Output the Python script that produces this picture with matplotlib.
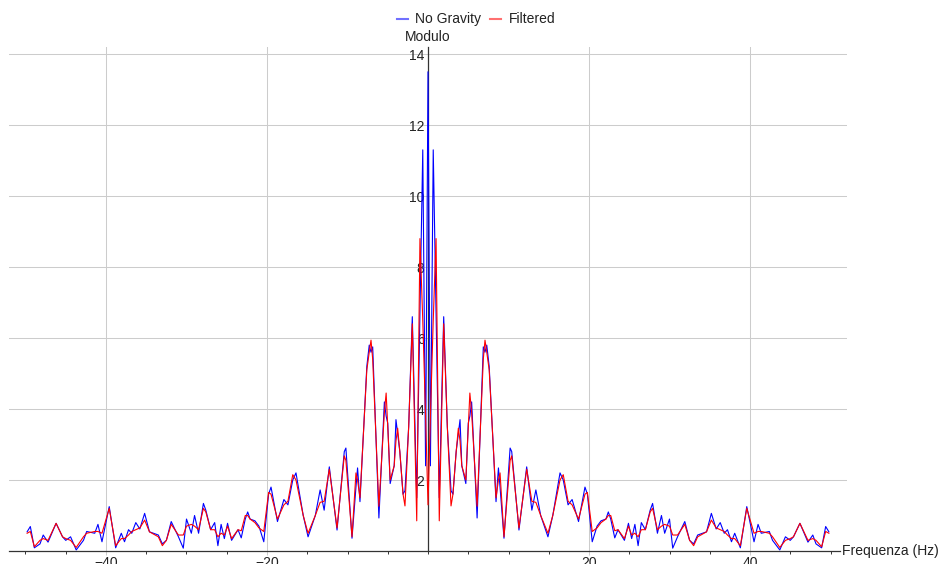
import numpy as np
import matplotlib
matplotlib.use('Agg')
import matplotlib.pyplot as plt
from matplotlib.lines import Line2D

plt.rcParams['font.family'] = ['Liberation Sans', 'DejaVu Sans']

# positive half of the spectrum (the modulus of the FFT of a
# real signal is symmetric, the left half of the chart is the mirror of this one)
freq_pos = [0.0, 0.3, 0.65, 1.0, 1.4, 1.95, 2.4, 2.86, 3.1, 3.5, 3.77, 3.98, 4.2, 4.7,
            5.0, 5.2, 5.42, 6.1, 6.87, 7.08, 7.3, 7.6, 8.45, 8.75, 8.95, 9.44, 10.2,
            10.4, 11.3, 12.26, 12.9, 13.4, 14.0, 14.9, 15.5, 16.4, 16.8, 17.4, 17.9,
            18.7, 19.5, 19.8, 20.4, 21.0, 21.5, 22.1, 22.4, 22.7, 23.2, 23.6, 24.4,
            24.9, 25.3, 25.7, 26.1, 26.5, 27.0, 27.6, 27.9, 28.5, 29.0, 29.4, 30.0,
            30.4, 31.0, 31.9, 32.5, 33.0, 33.5, 34.6, 35.2, 35.8, 36.3, 36.8, 37.2,
            37.7, 38.1, 38.8, 39.6, 40.5, 41.0, 41.4, 42.4, 42.8, 43.7, 44.4, 45.0,
            45.4, 46.2, 47.2, 47.8, 48.2, 48.9, 49.4, 49.8]
no_gravity_pos = [13.5, 2.4, 11.3, 6.8, 1.5, 6.6, 3.5, 1.7, 1.6, 2.8, 3.3, 3.7, 2.4, 1.9,
                  3.6, 3.8, 4.2, 0.93, 5.75, 5.6, 5.8, 5.2, 1.39, 2.34, 1.8, 0.36, 2.9,
                  2.8, 0.59, 2.37, 1.15, 1.72, 1.0, 0.4, 1.0, 2.2, 2.0, 1.3, 1.45,
                  0.83, 1.8, 1.6, 0.26, 0.7, 0.85, 0.9, 1.1, 0.9, 0.37, 0.6, 0.3,
                  0.78, 0.35, 0.75, 0.15, 0.8, 0.6, 1.15, 1.34, 0.5, 1.0, 0.5, 0.9,
                  0.08, 0.4, 0.83, 0.3, 0.2, 0.45, 0.54, 1.06, 0.62, 0.8, 0.5, 0.6,
                  0.26, 0.5, 0.09, 1.25, 0.26, 0.75, 0.5, 0.55, 0.3, 0.03, 0.4, 0.3,
                  0.4, 0.78, 0.25, 0.45, 0.2, 0.09, 0.69, 0.54]
filtered_pos = [1.3, 3.8, 6.5, 8.8, 0.85, 6.4, 3.5, 1.27, 1.6, 2.8, 3.46, 3.1, 2.4, 2.0,
                3.5, 4.45, 3.9, 1.26, 5.4, 5.94, 5.6, 5.1, 1.5, 2.0, 2.2, 0.4, 2.55,
                2.68, 0.65, 2.3, 1.4, 1.37, 1.0, 0.5, 1.0, 2.0, 2.15, 1.4, 1.3,
                0.9, 1.6, 1.65, 0.55, 0.65, 0.8, 0.9, 1.0, 1.0, 0.57, 0.6, 0.35,
                0.7, 0.45, 0.5, 0.4, 0.6, 0.6, 1.1, 1.2, 0.6, 0.7, 0.75, 0.7,
                0.45, 0.45, 0.75, 0.3, 0.15, 0.4, 0.54, 0.87, 0.65, 0.6, 0.55, 0.45,
                0.35, 0.35, 0.15, 1.2, 0.5, 0.55, 0.55, 0.5, 0.4, 0.1, 0.3, 0.35,
                0.4, 0.78, 0.3, 0.35, 0.3, 0.12, 0.55, 0.5]

x_ticks = [-40, -20, 20, 40]
x_tick_labels = ['\u221240', '\u221220', '20', '40']
y_ticks = [2, 4, 6, 8, 10, 12, 14]

# full spectrum
fp = np.array(freq_pos)
freq = np.concatenate([-fp[:0:-1], fp])
no_gravity = np.concatenate([np.array(no_gravity_pos)[:0:-1], no_gravity_pos])
filtered = np.concatenate([np.array(filtered_pos)[:0:-1], filtered_pos])

W, H = 944, 564
fig = plt.figure(figsize=(W / 100, H / 100), dpi=100)
x0, x1 = 9.4, 846.6
y0, y1 = 551, 46.9
ax = fig.add_axes([x0 / W, (H - y0) / H, (x1 - x0) / W, (y0 - y1) / H])
ax.set_xlim(-52, 52)
ax.set_ylim(0, 14.2)
for s in ax.spines.values():
    s.set_visible(False)

ax.set_xticks(x_ticks)
ax.set_yticks(y_ticks)
ax.set_xticks(np.arange(-50, 51, 5), minor=True)
ax.tick_params(which='major', length=0, labelbottom=False, labelleft=False)
ax.tick_params(axis='x', which='major', length=3, width=0.75, color='#cccccc', direction='out')
ax.tick_params(which='minor', length=2.5, width=0.7, color='#333333', direction='out')
ax.grid(True, which='major', color='#cccccc', lw=0.75)
ax.set_axisbelow(True)

# baseline and vertical axis
ax.plot([-52, 51.2], [0, 0], color='#333333', lw=0.9, clip_on=False, zorder=1.5)
ax.axvline(0, color='#333333', lw=0.9, clip_on=False, zorder=1.5)

ax.plot(freq, no_gravity, color='#0000ff', lw=0.8, zorder=2)
ax.plot(freq, filtered, color='#ff0000', lw=0.8, zorder=3)

fs = 10
for yv in y_ticks:
    ax.annotate(str(yv), (0, yv), xytext=(-2.5, -1.5), textcoords='offset points',
                ha='right', va='center', fontsize=fs, color='#222222', zorder=1)
for xv, lab in zip(x_ticks, x_tick_labels):
    ax.annotate(lab, (xv, 0), xytext=(0, -3.5), textcoords='offset points',
                ha='center', va='top', fontsize=fs, color='#222222', annotation_clip=False)
ax.annotate('Modulo', (0, 14.2), xytext=(0, 2), textcoords='offset points',
            ha='center', va='bottom', fontsize=fs, color='#222222', annotation_clip=False)
ax.annotate('Frequenza (Hz)', (51.2, 0), xytext=(1.5, 0), textcoords='offset points',
            ha='left', va='center', fontsize=fs, color='#222222', annotation_clip=False)

# legend on top
ly = 1 - 19 / H
fig.add_artist(Line2D([397 / W, 408 / W], [ly, ly], color='#7070ff', lw=1.5))
fig.text(415 / W, ly, 'No Gravity', fontsize=fs, color='#222222', va='center', ha='left')
fig.add_artist(Line2D([490 / W, 501 / W], [ly, ly], color='#ff7070', lw=1.5))
fig.text(509 / W, ly, 'Filtered', fontsize=fs, color='#222222', va='center', ha='left')

fig.savefig('out.png', dpi=100)
